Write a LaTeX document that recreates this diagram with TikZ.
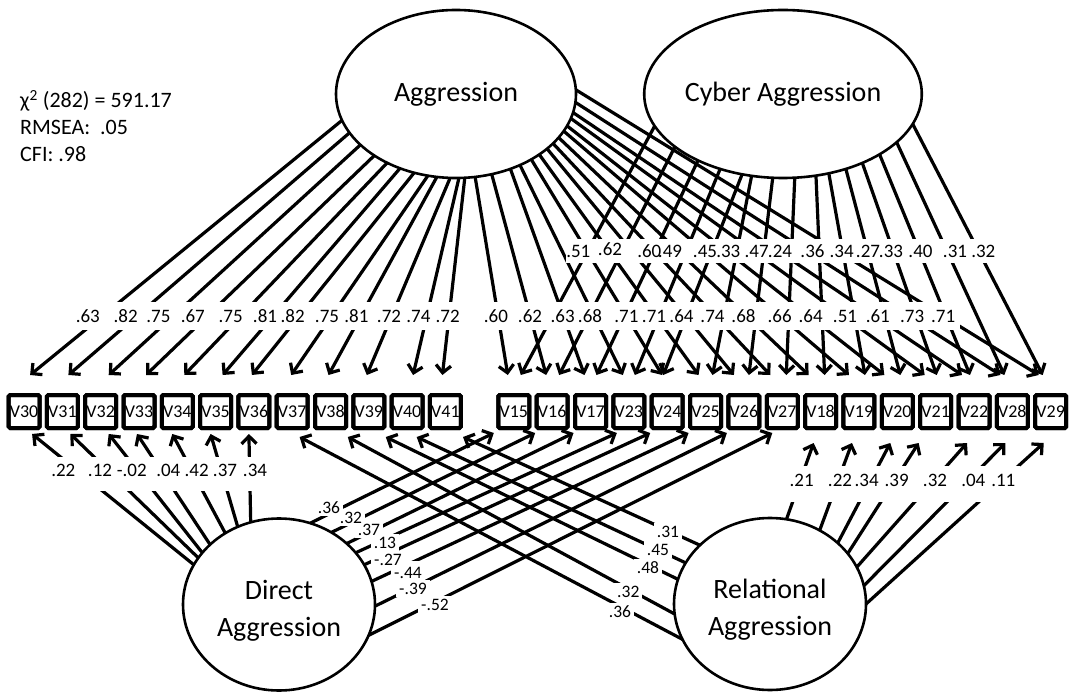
\documentclass[tikz,border=0pt]{standalone}
\usepackage{fontspec}
\setmainfont{Carlito}
\usetikzlibrary{arrows.meta,shapes.geometric,calc}
% two centred lines whose second baseline sits 31.5pt below the node centre
\newcommand{\twolines}[2]{\raisebox{-31.5pt}[0pt][0pt]{\begin{tabular}[b]{@{}c@{}}#1\\#2\end{tabular}}}
\begin{document}
\begin{tikzpicture}[x=1pt,y=-1pt,
  latent/.style={ellipse,draw,line width=2.6pt,inner sep=0pt,outer sep=0pt,font=\fontsize{28}{37}\selectfont},
  ind/.style={draw,line width=4pt,rounded corners=1.5pt,minimum width=31pt,minimum height=33pt,inner sep=0pt,outer sep=0pt,font=\fontsize{18}{20}\selectfont},
  boxrim/.style={line width=4pt,rounded corners=1.5pt},
  arr/.style={line width=3.2pt,-{Straight Barb[length=7.5pt,width=15pt]}},
  coef/.style={inner sep=0pt,font=\fontsize{19}{22}\selectfont},
  xcoef/.style={inner sep=0pt,font=\fontsize{17.5}{20}\selectfont},
  stat/.style={anchor=base west,inner sep=0pt,font=\fontsize{22}{26}\selectfont}
]
\useasboundingbox (0,0) rectangle (1070,692);

% fit statistics
\node[stat] (chi)   at (20,108) {χ\textsuperscript{2} (282) = 591.17};
\node[stat] (rmsea) at (20,135) {RMSEA:\ \ .05};
\node[stat] (cfi)   at (20,162) {CFI: .98};

% latent factors
\node[latent,minimum width=240pt,minimum height=168pt] (agg) at (456,94) {Aggression};
\node[latent,minimum width=242pt,minimum height=168pt] (cyb) at (783,94) {Cyber Aggression};
\node[latent,minimum width=192pt,minimum height=172pt] (dir) at (279,604.5) {\twolines{Direct}{Aggression}};
\node[latent,minimum width=192pt,minimum height=172pt] (rel) at (770,604) {\twolines{Relational}{Aggression}};

% observed indicators
\foreach \n [count=\i from 0] in {30,31,32,33,34,35,36,37,38,39,40,41}
  \node[ind] (v\n) at (24.1+38.3*\i,411.5) {V\n};
\foreach \n [count=\j from 0] in {15,16,17,23,24,25,26,27,18,19,20,21,22,28,29}
  \node[ind] (v\n) at (513.8+38.35*\j,411.5) {V\n};
\foreach \n in {15,...,41}
  \draw[boxrim] (v\n.south west) rectangle (v\n.north east);

% Aggression loadings
\foreach \n/\a/\d in {30/193.5/6,31/200.4/6,32/208/8,33/217.7/7,34/225.2/7,35/233.8/7,
    36/242/-2,37/251/-1,38/257.5/-2,39/266.9/-2,40/272/6,41/276/-3,
    15/283/-6,16/294.2/-6,17/306.1/-6,23/312.8/-6,24/319.1/-5,25/324.9/-7,26/329.3/-10,
    27/333.2/-12,18/337.5/-12,19/341.7/-10,20/344.5/-13,21/348.1/-11,22/351.4/-12,
    28/356.3/-12,29/2.4/-12}
  \draw[arr] (agg.\a) -- ([shift={(\d,-20)}]v\n.north);

% Cyber Aggression loadings
\foreach \n/\a/\d in {15/194/7,16/206.5/7,17/218/6,23/230.4/6,24/243.2/-4,25/249.6/7,
    26/263.2/5,27/278.2/4,18/292.5/4,19/300.3/6,20/310.5/3,21/319.5/1,22/328.8/-4,
    28/337.8/-8,29/347.1/-8}
  \draw[arr] (cyb.\a) -- ([shift={(\d,-20)}]v\n.north);

% Direct Aggression loadings
\foreach \n/\a/\d in {30/155.7/8,31/150.5/8,32/146.3/8,33/139.2/-2,34/127.4/-5,35/118.5/-5,36/109.4/-5}
  \draw[arr] (dir.\a) -- ([shift={(\d,6)}]v\n.south);
\foreach \n/\a/\d in {15/69.2/-20,16/54.5/-17,17/42.3/-17,23/34.8/-12,24/25.3/-17,25/14.8/-17,26/-1.3/-17,27/-19.8/-10}
  \draw[arr] (dir.\a) -- ([shift={(\d,5)}]v\n.south);

% Relational Aggression loadings
\foreach \n/\a/\d in {41/140.4/17.6,40/154/9.6,39/165.6/17,38/186/17.3,37/202.7/7.4}
  \draw[arr] (rel.\a) -- ([shift={(\d,9)}]v\n.south);
\foreach \n/\a/\d in {18/79/-7,19/56.9/-7,20/42.4/-7,21/33.7/-17,22/23.3/-7,28/11.7/-7,29/-0.6/-7}
  \draw[arr] (rel.\a) -- ([shift={(\d,15)}]v\n.south);

% gaps in the lines behind the coefficients
\fill[white] (72,302) rectangle (960,330);
\fill[white] (566,239) rectangle (998,263);
\fill[white] (48,457) rectangle (272,491);
\fill[white] (786,466) rectangle (1020,502);
\foreach \x/\y/\w/\u in {435/605/17/9,413/589/17/9,408/573/17/12,388/560/17/9,385/543/14/9,
    369/530/14/9,351/518/14/9,329/507.5/14/9,620/612/14/9,628.3/592/14/9,648/568/14/9,658/550/14/9,668/531.5/14/9}
  \fill[white] (\x-\w,\y-\u) rectangle (\x+\w,\y+8);

% coefficient rows
\foreach \x/\c [count=\k] in {87.8/.63,125.7/.82,158.4/.75,192.8/.67,230.7/.75,265/.81,292.7/.82,
    327/.75,356.4/.81,389/.72,418.4/.74,447.7/.72,495.9/.60,530/.62,562.7/.63,590/.68,
    626.4/.71,654/.71,681.5/.64,712.5/.74,743.5/.68,779.7/.66,810.6/.64,845/.51,877.8/.61,
    912.2/.73,943.2/.71}
  \node[coef] (ca\k) at (\x,316.5) {\c};
\foreach \x/\y/\c [count=\k] in {578.3/251/.51,610/249/.62,649.3/251/.60,670/251/.49,705/251/.45,
    728.3/251/.33,756.7/251/.47,780/251/.24,812.5/251/.36,841.7/251/.34,868/251/.27,
    891/251/.33,920.5/251/.40,955/251/.31,983.3/251/.32}
  \node[coef] (cc\k) at (\x,\y) {\c};
\foreach \x/\c [count=\k] in {63.3/.22,100/.12,131.7/-.02,168.3/.04,196.7/.42,225/.37,255/.34}
  \node[coef] (cd\k) at (\x,470) {\c};
\foreach \x/\c [count=\k] in {801.7/.21,840/.22,866.7/.34,896.7/.39,935/.32,973.3/.04,1003.3/.11}
  \node[coef] (cr\k) at (\x,480) {\c};

% coefficients on the crossing paths
\foreach \n/\x/\y/\c in {27/435/605/-.52,26/413/589/-.39,25/408/573/-.44,24/388/560/-.27,
    23/385/543/.13,17/369/530/.37,16/351/518/.32,15/329/507.5/.36}
  \node[xcoef] (xd\n) at (\x,\y) {\c};
\foreach \n/\x/\y/\c in {37/620/612/.36,38/628.3/592/.32,39/648/568/.48,40/658/550/.45,41/668/531.5/.31}
  \node[xcoef] (xr\n) at (\x,\y) {\c};
\end{tikzpicture}
\end{document}
